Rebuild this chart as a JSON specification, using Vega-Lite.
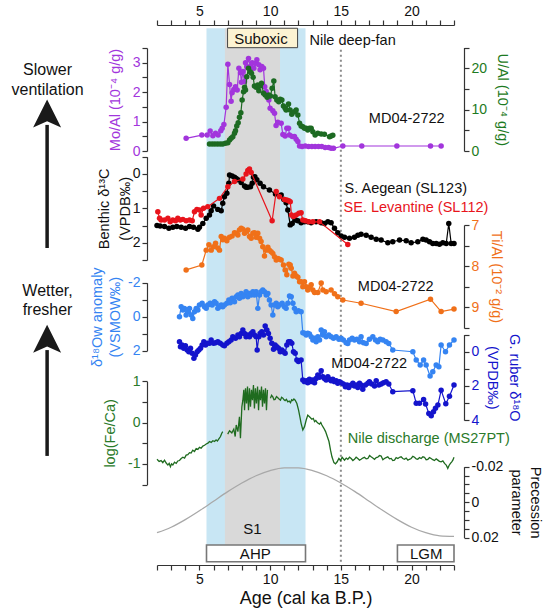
{
"$schema": "https://vega.github.io/schema/vega-lite/v6.json",
"width": 297, "height": 540,
"autosize": {"type": "none"},
"padding": {"left": 157, "right": 89, "top": 25, "bottom": 45},
"config": {
  "font": "Liberation Sans",
  "view": {"stroke": null},
  "axis": {"grid": false, "labelFont": "Liberation Sans", "titleFont": "Liberation Sans", "labelFontSize": 14, "titleFontSize": 14.5, "titleFontWeight": "normal", "domainColor": "#333", "tickColor": "#333", "domainWidth": 1.2, "tickWidth": 1.2, "tickSize": 5, "labelPadding": 2, "labelFlush": false, "labelOverlap": false, "labelBound": false},
  "text": {"font": "Liberation Sans", "fontSize": 14.5}
},
"datasets": {
  "moal": [
    {"age":4.06,"v":0.43},{"age":5.17,"v":0.54},{"age":5.55,"v":0.54},{"age":5.76,"v":0.68},{"age":5.95,"v":0.52},{"age":6.14,"v":0.60},{"age":6.32,"v":0.54},{"age":6.51,"v":0.69},{"age":6.61,"v":0.77},{"age":6.73,"v":0.90},{"age":6.89,"v":1.49},{"age":7.01,"v":2.95},{"age":7.13,"v":2.26},{"age":7.24,"v":1.69},{"age":7.31,"v":1.98},{"age":7.43,"v":2.09},{"age":7.55,"v":2.18},{"age":7.67,"v":2.07},{"age":7.79,"v":2.81},{"age":7.90,"v":2.66},{"age":7.97,"v":2.34},{"age":8.07,"v":2.70},{"age":8.19,"v":2.36},{"age":8.26,"v":3.00},{"age":8.35,"v":2.87},{"age":8.47,"v":3.14},{"age":8.61,"v":2.87},{"age":8.73,"v":3.00},{"age":8.85,"v":2.81},{"age":8.96,"v":2.98},{"age":9.06,"v":3.10},{"age":9.20,"v":2.93},{"age":9.29,"v":2.76},{"age":9.41,"v":2.87},{"age":9.53,"v":2.81},{"age":9.62,"v":2.18},{"age":9.72,"v":2.02},{"age":9.91,"v":1.73},{"age":10.00,"v":1.45},{"age":10.19,"v":1.37},{"age":10.31,"v":1.28},{"age":10.42,"v":0.87},{"age":10.54,"v":0.98},{"age":10.78,"v":0.94},{"age":10.90,"v":0.56},{"age":11.06,"v":0.51},{"age":11.18,"v":0.77},{"age":11.30,"v":0.77},{"age":11.37,"v":0.54},{"age":11.56,"v":0.49},{"age":11.72,"v":0.49},{"age":11.84,"v":0.40},{"age":11.96,"v":0.32},{"age":12.08,"v":0.17},{"age":12.26,"v":0.15},{"age":12.48,"v":0.17},{"age":12.71,"v":0.15},{"age":12.95,"v":0.15},{"age":13.18,"v":0.15},{"age":13.42,"v":0.15},{"age":13.65,"v":0.15},{"age":13.89,"v":0.12},{"age":14.13,"v":0.12},{"age":14.31,"v":0.09},{"age":14.48,"v":0.09},{"age":15.14,"v":0.17},{"age":16.48,"v":0.17},{"age":18.96,"v":0.17},{"age":21.34,"v":0.17},{"age":22.09,"v":0.17}
  ],
  "ual": [
    {"age":5.71,"v":1.69},{"age":5.90,"v":1.69},{"age":6.09,"v":1.69},{"age":6.28,"v":1.69},{"age":6.47,"v":1.69},{"age":6.65,"v":1.69},{"age":6.84,"v":1.85},{"age":7.01,"v":2.01},{"age":7.13,"v":2.66},{"age":7.24,"v":3.06},{"age":7.36,"v":3.46},{"age":7.48,"v":4.27},{"age":7.55,"v":4.91},{"age":7.64,"v":6.04},{"age":7.74,"v":6.84},{"age":7.83,"v":8.13},{"age":7.93,"v":9.26},{"age":8.02,"v":12.32},{"age":8.12,"v":14.33},{"age":8.19,"v":15.39},{"age":8.26,"v":14.73},{"age":8.35,"v":17.95},{"age":8.47,"v":19.97},{"age":8.59,"v":19.15},{"age":8.68,"v":18.77},{"age":8.80,"v":17.80},{"age":8.89,"v":15.70},{"age":9.01,"v":15.39},{"age":9.13,"v":15.94},{"age":9.20,"v":14.57},{"age":9.29,"v":15.70},{"age":9.39,"v":16.35},{"age":9.53,"v":13.94},{"age":9.65,"v":13.53},{"age":9.79,"v":12.97},{"age":9.91,"v":13.53},{"age":10.02,"v":13.29},{"age":10.14,"v":15.14},{"age":10.26,"v":16.91},{"age":10.35,"v":13.12},{"age":10.47,"v":12.32},{"age":10.61,"v":11.91},{"age":10.71,"v":12.48},{"age":10.83,"v":12.32},{"age":10.94,"v":10.87},{"age":11.06,"v":10.31},{"age":11.13,"v":9.90},{"age":11.30,"v":11.35},{"age":11.41,"v":9.90},{"age":11.53,"v":8.86},{"age":11.72,"v":9.49},{"age":11.84,"v":9.90},{"age":11.96,"v":8.70},{"age":12.08,"v":6.69},{"age":12.19,"v":6.04},{"age":12.31,"v":5.87},{"age":12.43,"v":5.48},{"age":12.55,"v":5.48},{"age":12.66,"v":5.07},{"age":12.78,"v":5.48},{"age":12.90,"v":5.48},{"age":13.02,"v":4.66},{"age":13.18,"v":3.86},{"age":13.37,"v":4.27},{"age":13.61,"v":4.11},{"age":13.84,"v":4.03},{"age":14.20,"v":3.46},{"age":14.31,"v":3.62},{"age":14.43,"v":3.78}
  ],
  "d13c_black": [
    {"age":2.0,"v":1.50},{"age":2.22,"v":1.51},{"age":2.53,"v":1.53},{"age":2.84,"v":1.58},{"age":3.12,"v":1.55},{"age":3.40,"v":1.53},{"age":3.71,"v":1.55},{"age":4.02,"v":1.58},{"age":4.30,"v":1.53},{"age":4.58,"v":1.55},{"age":4.89,"v":1.61},{"age":5.00,"v":1.55},{"age":5.24,"v":1.44},{"age":5.48,"v":1.29},{"age":5.71,"v":1.19},{"age":5.83,"v":1.07},{"age":6.00,"v":0.93},{"age":6.30,"v":1.03},{"age":6.54,"v":1.07},{"age":6.65,"v":0.85},{"age":6.77,"v":0.66},{"age":6.94,"v":0.56},{"age":7.08,"v":0.27},{"age":7.13,"v":0.03},{"age":7.31,"v":0.06},{"age":7.48,"v":0.10},{"age":7.60,"v":0.13},{"age":7.72,"v":0.17},{"age":7.95,"v":0.25},{"age":8.19,"v":0.35},{"age":8.30,"v":0.39},{"age":8.42,"v":0.39},{"age":8.61,"v":0.37},{"age":8.73,"v":0.27},{"age":8.82,"v":0.10},{"age":8.92,"v":0.08},{"age":9.06,"v":0.17},{"age":9.29,"v":0.27},{"age":9.53,"v":0.37},{"age":9.95,"v":0.47},{"age":10.38,"v":0.58},{"age":10.78,"v":0.61},{"age":10.97,"v":0.74},{"age":11.13,"v":0.84},{"age":11.25,"v":1.05},{"age":11.42,"v":1.48},{"age":11.56,"v":1.44},{"age":11.65,"v":1.24},{"age":11.79,"v":1.34},{"age":11.96,"v":1.36},{"age":12.19,"v":1.42},{"age":12.43,"v":1.39},{"age":12.66,"v":1.39},{"age":12.90,"v":1.42},{"age":13.25,"v":1.39},{"age":13.61,"v":1.42},{"age":13.84,"v":1.44},{"age":14.08,"v":1.39},{"age":14.31,"v":1.42},{"age":14.55,"v":1.58},{"age":14.78,"v":1.71},{"age":15.02,"v":1.80},{"age":15.26,"v":1.84},{"age":15.61,"v":1.87},{"age":15.96,"v":1.84},{"age":16.20,"v":1.78},{"age":16.43,"v":1.75},{"age":16.79,"v":1.78},{"age":17.14,"v":1.84},{"age":17.50,"v":1.90},{"age":17.85,"v":1.92},{"age":18.32,"v":2.00},{"age":18.67,"v":1.97},{"age":19.15,"v":1.92},{"age":19.62,"v":1.94},{"age":19.97,"v":2.00},{"age":20.44,"v":1.97},{"age":20.80,"v":1.90},{"age":21.03,"v":1.92},{"age":21.27,"v":1.97},{"age":21.50,"v":2.02},{"age":21.74,"v":2.02},{"age":21.97,"v":2.04},{"age":22.21,"v":2.00},{"age":22.45,"v":2.02},{"age":22.63,"v":1.44},{"age":22.80,"v":2.02},{"age":23.0,"v":2.02}
  ],
  "d13c_red": [
    {"age":2.06,"v":1.10},{"age":2.18,"v":1.29},{"age":2.29,"v":1.34},{"age":2.53,"v":1.34},{"age":2.77,"v":1.29},{"age":2.93,"v":1.39},{"age":3.12,"v":1.34},{"age":3.31,"v":1.36},{"age":3.47,"v":1.29},{"age":3.64,"v":1.34},{"age":3.83,"v":1.32},{"age":4.06,"v":1.36},{"age":4.30,"v":1.34},{"age":4.49,"v":1.36},{"age":4.65,"v":1.10},{"age":4.82,"v":1.03},{"age":5.00,"v":1.05},{"age":5.12,"v":1.19},{"age":5.29,"v":1.00},{"age":5.59,"v":0.95},{"age":6.42,"v":0.71},{"age":7.01,"v":0.37},{"age":7.48,"v":0.22},{"age":8.07,"v":0.15},{"age":8.30,"v":0.00},{"age":8.42,"v":-0.10},{"age":8.54,"v":-0.14},{"age":8.66,"v":-0.04},{"age":10.14,"v":1.36},{"age":10.43,"v":0.51},{"age":10.66,"v":0.66},{"age":11.01,"v":0.74},{"age":11.18,"v":0.76},{"age":11.32,"v":0.78},{"age":11.42,"v":0.81},{"age":11.51,"v":1.19},{"age":11.65,"v":1.24},{"age":11.84,"v":1.19},{"age":12.03,"v":1.14},{"age":12.19,"v":1.13},{"age":12.31,"v":1.34},{"age":12.50,"v":1.36},{"age":12.74,"v":1.39},{"age":13.02,"v":1.39},{"age":13.49,"v":1.39},{"age":15.49,"v":2.05}
  ],
  "tial": [
    {"age":4.06,"v":8.09},{"age":5.17,"v":7.97},{"age":5.48,"v":7.61},{"age":5.67,"v":7.48},{"age":5.83,"v":7.61},{"age":6.00,"v":7.53},{"age":6.14,"v":7.44},{"age":6.30,"v":7.56},{"age":6.42,"v":7.61},{"age":6.54,"v":7.28},{"age":6.65,"v":7.36},{"age":6.77,"v":7.32},{"age":6.94,"v":7.38},{"age":7.13,"v":7.30},{"age":7.31,"v":7.27},{"age":7.48,"v":7.19},{"age":7.60,"v":7.20},{"age":7.72,"v":7.24},{"age":7.83,"v":7.12},{"age":7.95,"v":7.08},{"age":8.07,"v":7.10},{"age":8.19,"v":7.20},{"age":8.30,"v":7.16},{"age":8.42,"v":7.12},{"age":8.54,"v":7.28},{"age":8.66,"v":7.32},{"age":8.78,"v":7.20},{"age":8.89,"v":7.19},{"age":9.01,"v":7.30},{"age":9.13,"v":7.20},{"age":9.25,"v":7.32},{"age":9.36,"v":7.40},{"age":9.48,"v":7.53},{"age":9.60,"v":7.75},{"age":9.72,"v":7.61},{"age":9.84,"v":7.54},{"age":9.95,"v":7.61},{"age":10.07,"v":7.65},{"age":10.19,"v":7.69},{"age":10.31,"v":7.77},{"age":10.43,"v":7.85},{"age":10.54,"v":7.81},{"age":10.66,"v":7.83},{"age":10.78,"v":7.85},{"age":10.94,"v":7.97},{"age":11.06,"v":8.09},{"age":11.18,"v":8.21},{"age":11.32,"v":7.95},{"age":11.42,"v":7.97},{"age":11.49,"v":8.05},{"age":11.61,"v":8.24},{"age":11.72,"v":8.17},{"age":11.84,"v":8.24},{"age":11.96,"v":8.27},{"age":12.08,"v":8.38},{"age":12.19,"v":8.38},{"age":12.31,"v":8.50},{"age":12.43,"v":8.38},{"age":12.55,"v":8.50},{"age":12.66,"v":8.58},{"age":12.78,"v":8.51},{"age":12.90,"v":8.45},{"age":13.02,"v":8.58},{"age":13.14,"v":8.64},{"age":13.37,"v":8.64},{"age":13.61,"v":8.41},{"age":13.73,"v":8.58},{"age":13.96,"v":8.62},{"age":14.31,"v":8.58},{"age":14.55,"v":8.67},{"age":14.78,"v":8.74},{"age":15.14,"v":8.82},{"age":16.43,"v":8.90},{"age":18.91,"v":9.10},{"age":21.34,"v":8.80},{"age":22.09,"v":9.10},{"age":23.0,"v":9.04}
  ],
  "d18ow": [
    {"age":3.59,"v":0.00},{"age":3.71,"v":-0.59},{"age":3.83,"v":-0.39},{"age":3.94,"v":-0.49},{"age":4.06,"v":-0.10},{"age":4.18,"v":-0.29},{"age":4.30,"v":-0.49},{"age":4.42,"v":-0.10},{"age":4.53,"v":0.10},{"age":4.65,"v":-0.29},{"age":4.77,"v":-0.49},{"age":4.89,"v":-0.39},{"age":5.00,"v":-0.69},{"age":5.19,"v":-0.79},{"age":5.36,"v":-0.59},{"age":5.48,"v":-0.49},{"age":5.59,"v":-0.69},{"age":5.76,"v":-0.79},{"age":5.90,"v":-0.69},{"age":6.07,"v":-0.88},{"age":6.18,"v":-0.79},{"age":6.30,"v":-0.49},{"age":6.42,"v":-0.59},{"age":6.54,"v":-0.69},{"age":6.65,"v":-0.59},{"age":6.77,"v":-0.69},{"age":6.94,"v":-0.79},{"age":7.08,"v":-0.98},{"age":7.18,"v":-0.82},{"age":7.31,"v":-1.08},{"age":7.48,"v":-0.88},{"age":7.60,"v":-1.18},{"age":7.72,"v":-1.28},{"age":7.83,"v":-1.08},{"age":7.95,"v":-1.37},{"age":8.07,"v":-1.18},{"age":8.19,"v":-1.28},{"age":8.30,"v":-1.47},{"age":8.42,"v":-1.18},{"age":8.54,"v":-1.37},{"age":8.66,"v":-1.28},{"age":8.78,"v":-1.47},{"age":8.89,"v":-1.28},{"age":9.01,"v":-1.47},{"age":9.13,"v":-0.49},{"age":9.25,"v":-1.28},{"age":9.36,"v":-1.47},{"age":9.48,"v":-1.57},{"age":9.60,"v":-1.47},{"age":9.72,"v":-1.28},{"age":9.84,"v":-1.37},{"age":9.95,"v":-0.98},{"age":10.07,"v":-0.69},{"age":10.19,"v":-0.10},{"age":10.31,"v":-0.69},{"age":10.43,"v":-0.79},{"age":10.54,"v":-0.59},{"age":10.66,"v":-0.69},{"age":10.85,"v":-0.79},{"age":11.01,"v":-0.59},{"age":11.13,"v":-0.49},{"age":11.25,"v":-0.79},{"age":11.37,"v":-1.22},{"age":11.49,"v":-1.18},{"age":11.61,"v":-0.79},{"age":11.72,"v":-0.49},{"age":11.84,"v":-0.29},{"age":12.00,"v":-0.35},{"age":12.19,"v":-0.29},{"age":12.31,"v":0.94},{"age":12.43,"v":0.98},{"age":12.55,"v":1.08},{"age":12.66,"v":0.98},{"age":12.78,"v":1.02},{"age":12.90,"v":1.18},{"age":13.02,"v":1.37},{"age":13.14,"v":1.27},{"age":13.25,"v":1.47},{"age":13.37,"v":1.18},{"age":13.49,"v":1.37},{"age":13.61,"v":0.78},{"age":13.73,"v":1.08},{"age":13.84,"v":0.88},{"age":13.96,"v":1.18},{"age":14.15,"v":1.08},{"age":14.31,"v":1.18},{"age":14.48,"v":1.27},{"age":14.67,"v":1.18},{"age":14.86,"v":1.33},{"age":15.02,"v":1.27},{"age":15.18,"v":1.37},{"age":15.37,"v":1.53},{"age":15.49,"v":1.57},{"age":15.61,"v":1.37},{"age":15.80,"v":1.27},{"age":15.96,"v":1.37},{"age":16.13,"v":1.33},{"age":16.32,"v":1.47},{"age":16.43,"v":1.18},{"age":16.60,"v":1.53},{"age":16.79,"v":1.57},{"age":17.02,"v":1.33},{"age":17.26,"v":1.18},{"age":17.45,"v":1.37},{"age":17.61,"v":1.47},{"age":17.78,"v":1.33},{"age":17.97,"v":1.37},{"age":18.20,"v":1.47},{"age":18.39,"v":1.57},{"age":18.67,"v":1.96},{"age":20.09,"v":2.06},{"age":20.33,"v":2.55},{"age":20.61,"v":2.84},{"age":20.85,"v":2.55},{"age":21.03,"v":2.84},{"age":21.31,"v":3.49},{"age":21.50,"v":3.24},{"age":21.74,"v":2.84},{"age":21.93,"v":2.94},{"age":22.09,"v":1.66},{"age":22.40,"v":2.06},{"age":22.68,"v":1.66},{"age":23.0,"v":1.37}
  ],
  "gruber": [
    {"age":3.59,"v":-0.58},{"age":3.66,"v":-0.29},{"age":3.77,"v":-0.39},{"age":3.89,"v":-0.20},{"age":4.01,"v":-0.35},{"age":4.13,"v":-0.10},{"age":4.25,"v":0.0},{"age":4.37,"v":-0.20},{"age":4.49,"v":0.09},{"age":4.61,"v":0.39},{"age":4.72,"v":0.19},{"age":4.84,"v":0.0},{"age":4.96,"v":-0.10},{"age":5.08,"v":-0.20},{"age":5.19,"v":-0.39},{"age":5.31,"v":-0.58},{"age":5.43,"v":-0.39},{"age":5.55,"v":-0.49},{"age":5.71,"v":-0.49},{"age":5.83,"v":-0.68},{"age":6.00,"v":-0.49},{"age":6.14,"v":-0.53},{"age":6.30,"v":-0.58},{"age":6.47,"v":-0.49},{"age":6.65,"v":-0.39},{"age":6.77,"v":-0.35},{"age":6.94,"v":-0.49},{"age":7.08,"v":-0.58},{"age":7.24,"v":-0.68},{"age":7.36,"v":-0.88},{"age":7.55,"v":-0.78},{"age":7.72,"v":-0.98},{"age":7.83,"v":-0.88},{"age":7.95,"v":-1.07},{"age":8.07,"v":-1.27},{"age":8.19,"v":-1.07},{"age":8.30,"v":-0.88},{"age":8.42,"v":-0.98},{"age":8.54,"v":-0.88},{"age":8.66,"v":-1.07},{"age":8.78,"v":-1.17},{"age":8.89,"v":-0.98},{"age":9.01,"v":-0.88},{"age":9.08,"v":-0.10},{"age":9.20,"v":-0.88},{"age":9.29,"v":-1.07},{"age":9.41,"v":-1.17},{"age":9.53,"v":-0.98},{"age":9.65,"v":-1.50},{"age":9.77,"v":-1.27},{"age":9.88,"v":-1.07},{"age":10.00,"v":-0.78},{"age":10.12,"v":-0.49},{"age":10.24,"v":-0.14},{"age":10.35,"v":-0.39},{"age":10.47,"v":-0.29},{"age":10.59,"v":-0.20},{"age":10.71,"v":0.0},{"age":10.83,"v":-0.10},{"age":10.94,"v":0.0},{"age":11.06,"v":0.09},{"age":11.18,"v":-0.39},{"age":11.30,"v":-0.58},{"age":11.42,"v":-0.58},{"age":11.53,"v":-0.49},{"age":11.65,"v":0.0},{"age":11.77,"v":0.09},{"age":11.89,"v":0.49},{"age":12.00,"v":0.58},{"age":12.19,"v":0.49},{"age":12.31,"v":1.66},{"age":12.43,"v":1.75},{"age":12.55,"v":1.70},{"age":12.66,"v":1.81},{"age":12.78,"v":1.61},{"age":12.90,"v":1.75},{"age":13.02,"v":1.66},{"age":13.14,"v":1.81},{"age":13.25,"v":1.56},{"age":13.37,"v":1.36},{"age":13.49,"v":1.50},{"age":13.61,"v":1.11},{"age":13.73,"v":1.46},{"age":13.84,"v":1.56},{"age":13.96,"v":1.66},{"age":14.08,"v":1.46},{"age":14.20,"v":1.61},{"age":14.31,"v":1.70},{"age":14.43,"v":1.61},{"age":14.55,"v":1.75},{"age":14.67,"v":1.70},{"age":14.78,"v":1.85},{"age":14.90,"v":1.75},{"age":15.02,"v":1.81},{"age":15.18,"v":1.89},{"age":15.32,"v":2.05},{"age":15.44,"v":1.95},{"age":15.56,"v":2.09},{"age":15.73,"v":1.95},{"age":15.85,"v":1.85},{"age":15.96,"v":2.01},{"age":16.08,"v":1.95},{"age":16.20,"v":2.09},{"age":16.32,"v":1.85},{"age":16.43,"v":1.95},{"age":16.55,"v":2.20},{"age":16.74,"v":1.95},{"age":16.91,"v":1.85},{"age":17.02,"v":1.75},{"age":17.19,"v":1.89},{"age":17.38,"v":2.01},{"age":17.50,"v":1.70},{"age":17.69,"v":1.95},{"age":17.85,"v":1.89},{"age":18.02,"v":1.81},{"age":18.20,"v":1.75},{"age":18.39,"v":1.89},{"age":18.67,"v":2.34},{"age":20.09,"v":2.28},{"age":20.33,"v":3.02},{"age":20.56,"v":3.02},{"age":20.85,"v":2.80},{"age":20.99,"v":3.06},{"age":21.22,"v":3.61},{"age":21.39,"v":3.74},{"age":21.55,"v":3.51},{"age":21.69,"v":3.31},{"age":21.86,"v":3.12},{"age":22.09,"v":2.26},{"age":22.42,"v":3.04},{"age":22.68,"v":2.60},{"age":23.0,"v":1.95}
  ],
  "feca": [
    {"age":2.0,"v":-0.89,"seg":1},{"age":2.15,"v":-0.94,"seg":1},{"age":2.29,"v":-0.92,"seg":1},{"age":2.41,"v":-0.97,"seg":1},{"age":2.53,"v":-0.91,"seg":1},{"age":2.65,"v":-0.98,"seg":1},{"age":2.77,"v":-1.03,"seg":1},{"age":2.86,"v":-0.99,"seg":1},{"age":2.95,"v":-1.07,"seg":1},{"age":3.03,"v":-1.00,"seg":1},{"age":3.12,"v":-1.03,"seg":1},{"age":3.24,"v":-0.96,"seg":1},{"age":3.36,"v":-0.99,"seg":1},{"age":3.47,"v":-0.93,"seg":1},{"age":3.59,"v":-0.92,"seg":1},{"age":3.71,"v":-0.87,"seg":1},{"age":3.83,"v":-0.84,"seg":1},{"age":3.95,"v":-0.86,"seg":1},{"age":4.06,"v":-0.79,"seg":1},{"age":4.18,"v":-0.78,"seg":1},{"age":4.30,"v":-0.73,"seg":1},{"age":4.41,"v":-0.74,"seg":1},{"age":4.53,"v":-0.67,"seg":1},{"age":4.65,"v":-0.70,"seg":1},{"age":4.77,"v":-0.63,"seg":1},{"age":4.89,"v":-0.65,"seg":1},{"age":5.00,"v":-0.60,"seg":1},{"age":5.12,"v":-0.62,"seg":1},{"age":5.24,"v":-0.57,"seg":1},{"age":5.36,"v":-0.55,"seg":1},{"age":5.48,"v":-0.52,"seg":1},{"age":5.60,"v":-0.50,"seg":1},{"age":5.71,"v":-0.46,"seg":1},{"age":5.83,"v":-0.48,"seg":1},{"age":5.95,"v":-0.44,"seg":1},{"age":6.07,"v":-0.46,"seg":1},{"age":6.18,"v":-0.42,"seg":1},{"age":6.27,"v":-0.45,"seg":1},{"age":6.35,"v":-0.41,"seg":1},{"age":6.49,"v":-0.34,"seg":1},{"age":6.58,"v":-0.26,"seg":1},{"age":6.65,"v":-0.22,"seg":1},
    {"age":7.0,"v":-0.28,"seg":2},{"age":7.13,"v":-0.20,"seg":2},{"age":7.29,"v":-0.25,"seg":2},{"age":7.43,"v":-0.16,"seg":2},{"age":7.53,"v":-0.34,"seg":2},{"age":7.60,"v":-0.06,"seg":2},{"age":7.72,"v":-0.22,"seg":2},{"age":7.83,"v":0.14,"seg":2},{"age":7.90,"v":-0.38,"seg":2},{"age":8.00,"v":0.38,"seg":2},{"age":8.07,"v":0.54,"seg":2},{"age":8.14,"v":0.79,"seg":2},{"age":8.19,"v":0.30,"seg":2},{"age":8.26,"v":0.83,"seg":2},{"age":8.33,"v":0.46,"seg":2},{"age":8.40,"v":0.87,"seg":2},{"age":8.47,"v":0.30,"seg":2},{"age":8.54,"v":0.83,"seg":2},{"age":8.61,"v":0.38,"seg":2},{"age":8.68,"v":0.79,"seg":2},{"age":8.75,"v":0.54,"seg":2},{"age":8.82,"v":0.91,"seg":2},{"age":8.89,"v":0.34,"seg":2},{"age":8.96,"v":0.83,"seg":2},{"age":9.03,"v":0.46,"seg":2},{"age":9.11,"v":0.87,"seg":2},{"age":9.18,"v":0.30,"seg":2},{"age":9.25,"v":0.79,"seg":2},{"age":9.32,"v":0.54,"seg":2},{"age":9.39,"v":0.87,"seg":2},{"age":9.46,"v":0.38,"seg":2},{"age":9.53,"v":0.79,"seg":2},{"age":9.60,"v":0.46,"seg":2},{"age":9.67,"v":0.83,"seg":2},{"age":9.74,"v":0.30,"seg":2},{"age":9.81,"v":0.79,"seg":2},
    {"age":10.02,"v":0.59,"seg":3},{"age":10.10,"v":0.66,"seg":3},{"age":10.19,"v":0.62,"seg":3},{"age":10.27,"v":0.55,"seg":3},{"age":10.35,"v":0.56,"seg":3},{"age":10.45,"v":0.63,"seg":3},{"age":10.54,"v":0.60,"seg":3},{"age":10.63,"v":0.57,"seg":3},{"age":10.73,"v":0.54,"seg":3},{"age":10.81,"v":0.61,"seg":3},{"age":10.90,"v":0.59,"seg":3},{"age":10.98,"v":0.55,"seg":3},{"age":11.06,"v":0.53,"seg":3},{"age":11.15,"v":0.56,"seg":3},{"age":11.25,"v":0.50,"seg":3},{"age":11.35,"v":0.52,"seg":3},{"age":11.44,"v":0.48,"seg":3},{"age":11.52,"v":0.55,"seg":3},{"age":11.60,"v":0.53,"seg":3},{"age":11.68,"v":0.57,"seg":3},{"age":11.77,"v":0.54,"seg":3},{"age":11.89,"v":0.46,"seg":3},{"age":12.01,"v":0.30,"seg":3},{"age":12.10,"v":0.14,"seg":3},{"age":12.19,"v":-0.02,"seg":3},{"age":12.31,"v":-0.18,"seg":3},{"age":12.43,"v":-0.10,"seg":3},{"age":12.55,"v":0.06,"seg":3},{"age":12.66,"v":0.18,"seg":3},{"age":12.78,"v":0.14,"seg":3},{"age":12.95,"v":0.08,"seg":3},{"age":13.05,"v":0.10,"seg":3},{"age":13.14,"v":0.02,"seg":3},{"age":13.23,"v":0.05,"seg":3},{"age":13.33,"v":0.00,"seg":3},{"age":13.49,"v":-0.04,"seg":3},{"age":13.58,"v":0.00,"seg":3},{"age":13.66,"v":-0.06,"seg":3},{"age":13.80,"v":-0.14,"seg":3},{"age":13.92,"v":-0.22,"seg":3},{"age":14.04,"v":-0.34,"seg":3},{"age":14.16,"v":-0.46,"seg":3},{"age":14.27,"v":-0.67,"seg":3},{"age":14.37,"v":-0.83,"seg":3},{"age":14.51,"v":-0.97,"seg":3},{"age":14.62,"v":-1.00,"seg":3},{"age":14.74,"v":-0.95,"seg":3},{"age":14.86,"v":-0.87,"seg":3},{"age":14.98,"v":-0.92,"seg":3},{"age":15.09,"v":-0.84,"seg":3},{"age":15.26,"v":-0.91,"seg":3},{"age":15.38,"v":-0.86,"seg":3},{"age":15.49,"v":-0.89,"seg":3},{"age":15.61,"v":-0.84,"seg":3},{"age":15.73,"v":-0.87,"seg":3},{"age":15.85,"v":-0.92,"seg":3},{"age":15.96,"v":-0.89,"seg":3},{"age":16.08,"v":-0.84,"seg":3},{"age":16.20,"v":-0.87,"seg":3},{"age":16.32,"v":-0.91,"seg":3},{"age":16.43,"v":-0.89,"seg":3},{"age":16.55,"v":-0.86,"seg":3},{"age":16.67,"v":-0.84,"seg":3},{"age":16.79,"v":-0.88,"seg":3},{"age":16.91,"v":-0.87,"seg":3},{"age":17.03,"v":-0.80,"seg":3},{"age":17.14,"v":-0.83,"seg":3},{"age":17.26,"v":-0.86,"seg":3},{"age":17.38,"v":-0.89,"seg":3},{"age":17.50,"v":-0.85,"seg":3},{"age":17.61,"v":-0.84,"seg":3},{"age":17.73,"v":-0.80,"seg":3},{"age":17.85,"v":-0.81,"seg":3},{"age":17.97,"v":-0.90,"seg":3},{"age":18.08,"v":-0.87,"seg":3},{"age":18.20,"v":-0.85,"seg":3},{"age":18.32,"v":-0.83,"seg":3},{"age":18.44,"v":-0.88,"seg":3},{"age":18.56,"v":-0.87,"seg":3},{"age":18.67,"v":-0.92,"seg":3},{"age":18.79,"v":-0.91,"seg":3},{"age":18.91,"v":-0.85,"seg":3},{"age":19.03,"v":-0.87,"seg":3},{"age":19.15,"v":-0.84,"seg":3},{"age":19.26,"v":-0.83,"seg":3},{"age":19.38,"v":-0.87,"seg":3},{"age":19.50,"v":-0.89,"seg":3},{"age":19.62,"v":-0.86,"seg":3},{"age":19.74,"v":-0.91,"seg":3},{"age":19.85,"v":-0.89,"seg":3},{"age":19.97,"v":-0.87,"seg":3},{"age":20.09,"v":-0.82,"seg":3},{"age":20.21,"v":-0.84,"seg":3},{"age":20.33,"v":-0.88,"seg":3},{"age":20.44,"v":-0.89,"seg":3},{"age":20.56,"v":-0.85,"seg":3},{"age":20.68,"v":-0.87,"seg":3},{"age":20.80,"v":-0.83,"seg":3},{"age":20.91,"v":-0.84,"seg":3},{"age":21.03,"v":-0.90,"seg":3},{"age":21.15,"v":-0.89,"seg":3},{"age":21.27,"v":-0.85,"seg":3},{"age":21.38,"v":-0.87,"seg":3},{"age":21.50,"v":-0.90,"seg":3},{"age":21.62,"v":-0.92,"seg":3},{"age":21.74,"v":-0.88,"seg":3},{"age":21.86,"v":-0.91,"seg":3},{"age":21.97,"v":-0.94,"seg":3},{"age":22.09,"v":-0.95,"seg":3},{"age":22.21,"v":-0.93,"seg":3},{"age":22.33,"v":-0.99,"seg":3},{"age":22.45,"v":-1.03,"seg":3},{"age":22.56,"v":-1.11,"seg":3},{"age":22.65,"v":-1.04,"seg":3},{"age":22.75,"v":-0.99,"seg":3},{"age":22.84,"v":-0.95,"seg":3},{"age":22.92,"v":-0.91,"seg":3},{"age":23.0,"v":-0.84,"seg":3}
  ],
  "precession": [
    {"age":2,"v":0.0173},{"age":3,"v":0.0142},{"age":4,"v":0.0099},{"age":5,"v":0.0049},{"age":6,"v":-0.0005},{"age":7,"v":-0.0059},{"age":8,"v":-0.0108},{"age":9,"v":-0.0149},{"age":10,"v":-0.0178},{"age":11,"v":-0.0193},{"age":12,"v":-0.0193},{"age":13,"v":-0.0178},{"age":14,"v":-0.0149},{"age":15,"v":-0.0108},{"age":16,"v":-0.0059},{"age":17,"v":-0.0005},{"age":18,"v":0.0049},{"age":19,"v":0.0099},{"age":20,"v":0.0142},{"age":21,"v":0.0173},{"age":22,"v":0.0191},{"age":23,"v":0.0194}
  ]
},
"layer": [
  {
    "layer": [
      {"data": {"values": [{"start": 5.5, "end": 12.5, "top": 99.4, "bottom": 3.7}]},
       "mark": {"type": "rect", "color": "#c8e6f4"},
       "encoding": {
         "x": {"field": "start", "type": "quantitative"},
         "x2": {"field": "end"},
         "y": {"field": "top", "type": "quantitative"},
         "y2": {"field": "bottom"}}},
      {"data": {"values": [{"start": 6.8, "end": 10.7, "top": 99.4, "bottom": 3.7}]},
       "mark": {"type": "rect", "color": "#d9d9d9"},
       "encoding": {
         "x": {"field": "start", "type": "quantitative"},
         "x2": {"field": "end"},
         "y": {"field": "top", "type": "quantitative"},
         "y2": {"field": "bottom"}}},
      {"data": {"values": [{"age": 15, "top": 95.4, "bottom": 0.4}]},
       "mark": {"type": "rule", "color": "#8a8a8a", "strokeWidth": 2, "strokeDash": [2, 3]},
       "encoding": {
         "x": {"field": "age", "type": "quantitative"},
         "y": {"field": "top", "type": "quantitative"},
         "y2": {"field": "bottom"}}}
    ],
    "encoding": {
      "x": {"type": "quantitative", "scale": {"domain": [2, 23], "nice": false, "zero": false}, "axis": null},
      "y": {"type": "quantitative", "scale": {"domain": [0, 100], "nice": false, "zero": false}, "axis": null}
    }
  },
  {
    "data": {"name": "moal"},
    "mark": {"type": "line", "color": "#a235dc", "strokeWidth": 1.2, "point": {"filled": true, "size": 30, "color": "#a235dc"}},
    "encoding": {
      "x": {"field": "age", "type": "quantitative", "scale": {"domain": [2, 23], "nice": false, "zero": false},
            "axis": {"orient": "top", "values": [2,3,4,5,6,7,8,9,10,11,12,13,14,15,16,17,18,19,20,21,22,23], "labelExpr": "datum.value % 5 == 0 ? '' + datum.value : ''", "title": null, "labelColor": "#111"}},
      "y": {"field": "v", "type": "quantitative", "scale": {"domain": [0, 3.5], "range": [126, 23], "nice": false, "zero": false},
            "axis": {"orient": "left", "offset": 10, "values": [0,0.5,1,1.5,2,2.5,3,3.5], "labelExpr": "datum.value % 1 == 0 ? '' + datum.value : ''", "title": "Mo/Al (10⁻⁴ g/g)", "titleColor": "#a235dc", "labelColor": "#a235dc", "titlePadding": 10}}
    }
  },
  {
    "data": {"name": "ual"},
    "mark": {"type": "line", "color": "#1d6a22", "strokeWidth": 1.2, "point": {"filled": true, "size": 30, "color": "#1d6a22"}},
    "encoding": {
      "x": {"field": "age", "type": "quantitative", "scale": {"domain": [2, 23], "nice": false, "zero": false}, "axis": null},
      "y": {"field": "v", "type": "quantitative", "scale": {"domain": [0, 25], "range": [126, 22.5], "nice": false, "zero": false},
            "axis": {"orient": "right", "offset": 10, "values": [0,5,10,15,20,25], "labelExpr": "datum.value % 10 == 0 ? '' + datum.value : ''", "title": "U/Al (10⁻⁴ g/g)", "titleColor": "#1d7a22", "labelColor": "#1d7a22", "titlePadding": 8}}
    }
  },
  {
    "layer": [
      {"data": {"name": "d13c_black"},
       "mark": {"type": "line", "color": "#000000", "strokeWidth": 1.2, "point": {"filled": true, "size": 30, "color": "#000000"}}},
      {"data": {"name": "d13c_red"},
       "mark": {"type": "line", "color": "#e8141c", "strokeWidth": 1.2, "point": {"filled": true, "size": 30, "color": "#e8141c"}}}
    ],
    "encoding": {
      "x": {"field": "age", "type": "quantitative", "scale": {"domain": [2, 23], "nice": false, "zero": false}, "axis": null},
      "y": {"field": "v", "type": "quantitative", "scale": {"domain": [-0.5, 2.5], "range": [131.7, 235], "nice": false, "zero": false},
            "axis": {"orient": "left", "offset": 10, "values": [-0.5,0,0.5,1,1.5,2,2.5], "labelExpr": "datum.value % 1 == 0 ? '' + datum.value : ''", "title": ["Benthic δ¹³C", "(VPDB‰)"], "titleLineHeight": 21, "titleColor": "#111", "labelColor": "#111", "titlePadding": 0}}
    }
  },
  {
    "data": {"name": "tial"},
    "mark": {"type": "line", "color": "#f07019", "strokeWidth": 1.2, "point": {"filled": true, "size": 30, "color": "#f07019"}},
    "encoding": {
      "x": {"field": "age", "type": "quantitative", "scale": {"domain": [2, 23], "nice": false, "zero": false}, "axis": null},
      "y": {"field": "v", "type": "quantitative", "scale": {"domain": [7, 9.5], "range": [200, 303], "nice": false, "zero": false},
            "axis": {"orient": "right", "offset": 10, "values": [7,7.5,8,8.5,9,9.5], "labelExpr": "datum.value % 1 == 0 ? '' + datum.value : ''", "title": "Ti/Al (10⁻² g/g)", "titleColor": "#f07019", "labelColor": "#f07019", "titlePadding": 10}}
    }
  },
  {
    "data": {"name": "d18ow"},
    "mark": {"type": "line", "color": "#3584f2", "strokeWidth": 1.2, "point": {"filled": true, "size": 30, "color": "#3584f2"}},
    "encoding": {
      "x": {"field": "age", "type": "quantitative", "scale": {"domain": [2, 23], "nice": false, "zero": false}, "axis": null},
      "y": {"field": "v", "type": "quantitative", "scale": {"domain": [-2, 2], "range": [257.7, 325.7], "nice": false, "zero": false},
            "axis": {"orient": "left", "offset": 10, "values": [-2,-1,0,1,2], "labelExpr": "datum.value % 2 == 0 ? '' + datum.value : ''", "title": ["δ¹⁸Ow anomaly", "(VSMOW‰)"], "titleLineHeight": 18, "titleColor": "#3584f2", "labelColor": "#3584f2", "titlePadding": 5}}
    }
  },
  {
    "data": {"name": "gruber"},
    "mark": {"type": "line", "color": "#1414cc", "strokeWidth": 1.2, "point": {"filled": true, "size": 30, "color": "#1414cc"}},
    "encoding": {
      "x": {"field": "age", "type": "quantitative", "scale": {"domain": [2, 23], "nice": false, "zero": false}, "axis": null},
      "y": {"field": "v", "type": "quantitative", "scale": {"domain": [-1, 4], "range": [309.6, 395.1], "nice": false, "zero": false},
            "axis": {"orient": "right", "offset": 10, "values": [-1,0,1,2,3,4], "labelExpr": "datum.value % 2 == 0 ? '' + datum.value : ''", "title": ["G. ruber δ¹⁸O", "(VPDB‰)"], "titleLineHeight": 22, "titleColor": "#1414cc", "labelColor": "#1414cc", "titlePadding": 6}}
    }
  },
  {
    "data": {"name": "feca"},
    "mark": {"type": "line", "color": "#1f6b1f", "strokeWidth": 1.3},
    "encoding": {
      "x": {"field": "age", "type": "quantitative", "scale": {"domain": [2, 23], "nice": false, "zero": false}, "axis": null},
      "detail": {"field": "seg", "type": "nominal"},
      "y": {"field": "v", "type": "quantitative", "scale": {"domain": [-1.5, 1], "range": [459.5, 356.2], "nice": false, "zero": false},
            "axis": {"orient": "left", "offset": 10, "values": [-1.5,-1,-0.5,0,0.5,1], "labelExpr": "datum.value % 1 == 0 ? '' + datum.value : ''", "title": "log(Fe/Ca)", "titleColor": "#2a7a2a", "labelColor": "#2a7a2a", "titlePadding": 10}}
    }
  },
  {
    "data": {"name": "precession"},
    "mark": {"type": "line", "color": "#a8a8a8", "strokeWidth": 1.3, "interpolate": "monotone"},
    "encoding": {
      "x": {"field": "age", "type": "quantitative", "scale": {"domain": [2, 23], "nice": false, "zero": false},
            "axis": {"orient": "bottom", "values": [2,3,4,5,6,7,8,9,10,11,12,13,14,15,16,17,18,19,20,21,22,23], "labelExpr": "datum.value % 5 == 0 ? '' + datum.value : ''", "title": "Age (cal ka B.P.)", "titleFontSize": 18, "titlePadding": 3, "titleColor": "#111", "labelColor": "#111"}},
      "y": {"field": "v", "type": "quantitative", "scale": {"domain": [-0.02, 0.02], "range": [441.7, 512.5], "nice": false, "zero": false},
            "axis": {"orient": "right", "offset": 10, "values": [-0.02,-0.015,-0.01,-0.005,0,0.005,0.01,0.015,0.02], "labelExpr": "abs(datum.value) < 1e-6 ? '0' : (abs(abs(datum.value) - 0.02) < 1e-6 ? (datum.value < 0 ? '-0.02' : '0.02') : '')", "title": ["Precession", "parameter"], "titleLineHeight": 19, "titleColor": "#111", "labelColor": "#111", "titlePadding": 6}}
    }
  },
  {
    "layer": [
      {"data": {"values": [{"start": 5.5, "end": 12.5, "top": 3.7, "bottom": 0.6}, {"start": 19, "end": 23, "top": 3.7, "bottom": 0.6}]},
       "mark": {"type": "rect", "fill": "#ffffff", "stroke": "#777777", "strokeWidth": 1.6},
       "encoding": {"x": {"field": "start", "type": "quantitative"}, "x2": {"field": "end"}, "y": {"field": "top", "type": "quantitative"}, "y2": {"field": "bottom"}}},
      {"data": {"values": [{"start": 6.99, "end": 11.94, "top": 99.4, "bottom": 95.8}]},
       "mark": {"type": "rect", "fill": "#fcf3d2", "stroke": "#444444", "strokeWidth": 1},
       "encoding": {"x": {"field": "start", "type": "quantitative"}, "x2": {"field": "end"}, "y": {"field": "top", "type": "quantitative"}, "y2": {"field": "bottom"}}},
      {"data": {"values": [{"age": 9.35, "pos": 97.5, "label": "Suboxic"}, {"age": 8.75, "pos": 6.7, "label": "S1"}, {"age": 8.95, "pos": 2.0, "label": "AHP"}, {"age": 21.04, "pos": 2.0, "label": "LGM"}]},
       "mark": {"type": "text", "align": "center", "baseline": "middle", "fontSize": 15, "color": "#111"},
       "encoding": {"x": {"field": "age", "type": "quantitative"}, "y": {"field": "pos", "type": "quantitative"}, "text": {"field": "label"}}},
      {"data": {"values": [{"age": -5.74, "pos": 91.7, "label": "Slower"}, {"age": -5.74, "pos": 88.0, "label": "ventilation"}, {"age": -5.74, "pos": 50.8, "label": "Wetter,"}, {"age": -5.74, "pos": 47.2, "label": "fresher"}]},
       "mark": {"type": "text", "align": "center", "baseline": "middle", "fontSize": 16, "color": "#111"},
       "encoding": {"x": {"field": "age", "type": "quantitative"}, "y": {"field": "pos", "type": "quantitative"}, "text": {"field": "label"}}},
      {"data": {"values": [{"age": 12.78, "pos": 97.0, "label": "Nile deep-fan"}, {"age": 16.98, "pos": 82.6, "label": "MD04-2722"}, {"age": 15.26, "pos": 69.6, "label": "S. Aegean (SL123)"}, {"age": 16.2, "pos": 51.4, "label": "MD04-2722"}, {"age": 14.32, "pos": 37.2, "label": "MD04-2722"}]},
       "mark": {"type": "text", "align": "left", "baseline": "middle", "fontSize": 14.5, "color": "#111"},
       "encoding": {"x": {"field": "age", "type": "quantitative"}, "y": {"field": "pos", "type": "quantitative"}, "text": {"field": "label"}}},
      {"data": {"values": [{"age": 15.19, "pos": 66.2, "label": "SE. Levantine (SL112)"}]},
       "mark": {"type": "text", "align": "left", "baseline": "middle", "fontSize": 14.5, "color": "#e8141c"},
       "encoding": {"x": {"field": "age", "type": "quantitative"}, "y": {"field": "pos", "type": "quantitative"}, "text": {"field": "label"}}},
      {"data": {"values": [{"age": 15.49, "pos": 23.3, "label": "Nile discharge (MS27PT)"}]},
       "mark": {"type": "text", "align": "left", "baseline": "middle", "fontSize": 14.5, "color": "#2a7a2a"},
       "encoding": {"x": {"field": "age", "type": "quantitative"}, "y": {"field": "pos", "type": "quantitative"}, "text": {"field": "label"}}},
      {"data": {"values": [{"age": -5.77, "from": 58.7, "to": 81.5}, {"age": -5.77, "from": 20.2, "to": 39.8}]},
       "mark": {"type": "rule", "color": "#1a1a1a", "strokeWidth": 3.5},
       "encoding": {"x": {"field": "age", "type": "quantitative"}, "y": {"field": "from", "type": "quantitative"}, "y2": {"field": "to"}}},
      {"data": {"values": [{"age": -5.77, "pos": 83.6}, {"age": -5.77, "pos": 41.9}]},
       "mark": {"type": "point", "shape": "M0,-1L1,1L0,0.55L-1,1Z", "filled": true, "size": 784, "color": "#1a1a1a", "opacity": 1},
       "encoding": {"x": {"field": "age", "type": "quantitative"}, "y": {"field": "pos", "type": "quantitative"}}}
    ],
    "encoding": {
      "x": {"type": "quantitative", "scale": {"domain": [2, 23], "nice": false, "zero": false}, "axis": null},
      "y": {"type": "quantitative", "scale": {"domain": [0, 100], "nice": false, "zero": false}, "axis": null}
    }
  }
],
"resolve": {"scale": {"y": "independent"}, "axis": {"y": "independent", "x": "independent"}}
}
